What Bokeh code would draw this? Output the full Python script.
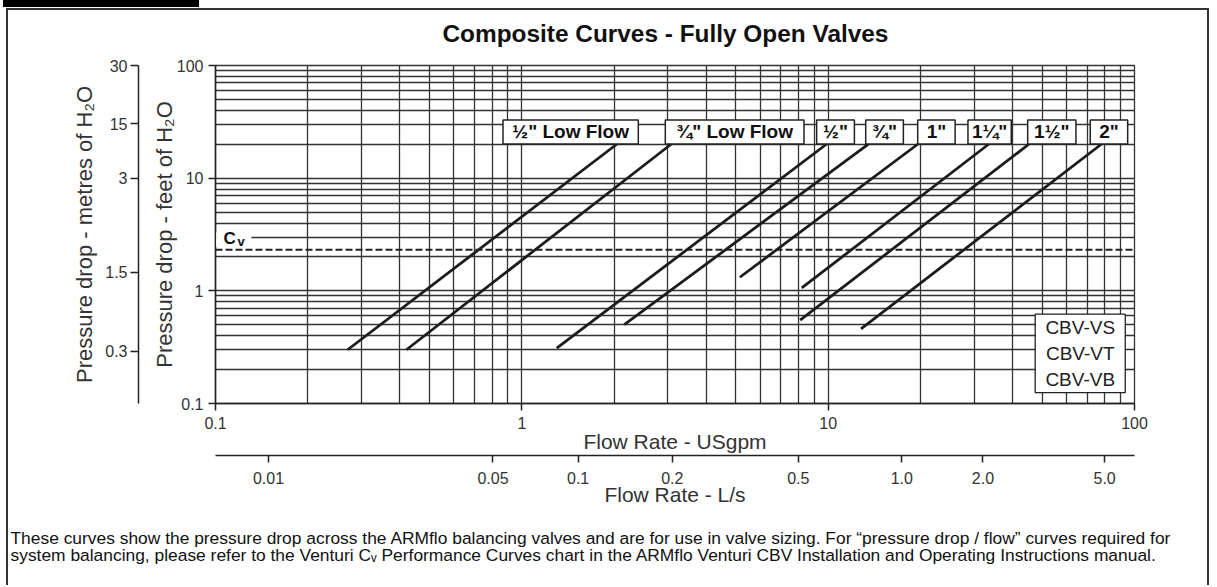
import math
from bokeh.plotting import figure
from bokeh.models import LogAxis, FixedTicker, Span, Label, BoxAnnotation, ColumnDataSource, Range1d, Title
from bokeh.core.properties import value
from bokeh.embed import file_html
from bokeh.resources import INLINE

FONT = "Liberation Sans"
INK = "#222222"
GRID = "#333333"
TXT = "#333333"

# ---- data (flow in USgpm, pressure drop in feet of H2O) ----
valves = ['\u00bd" Low Flow', '\u00be" Low Flow', '\u00bd"', '\u00be"', '1"', '1\u00bc"', '1\u00bd"', '2"']
flow_low = [0.27, 0.42, 1.30, 2.16, 5.15, 8.2, 8.1, 12.8]
dp_low = [0.30, 0.30, 0.31, 0.50, 1.32, 1.06, 0.55, 0.46]
flow_high = [2.04, 3.07, 9.87, 13.5, 19.6, 33.4, 45.2, 77.9]
dp_high = [20, 20, 20, 20, 20, 20, 20, 20]

# label boxes (USgpm extents, feet extents)
label_left = [0.868, 2.94, 9.17, 13.26, 19.6, 28.6, 44.8, 71.7]
label_right = [2.40, 8.34, 12.18, 17.6, 25.97, 39.6, 64.4, 95.0]
label_bottom = 20.1
label_top = 32.9

cv_dp = 2.31  # Cv reference line (1 psi = 2.31 ft)

gpm_ticks = [0.1, 1.0, 10.0, 100.0]
gpm_labels = ["0.1", "1", "10", "100"]
ft_ticks = [0.1, 1.0, 10.0, 100.0]
ft_labels = ["0.1", "1", "10", "100"]
m_tick_ft = [100.0, 30.5, 10.0, 1.46, 0.29]
m_labels = ["30", "15", "3", "1.5", "0.3"]
ls_tick_gpm = [0.149, 0.805, 1.527, 3.10, 7.99, 17.4, 32.0, 79.9]
ls_labels = ["0.01", "0.05", "0.1", "0.2", "0.5", "1.0", "2.0", "5.0"]

models = ["CBV-VS", "CBV-VT", "CBV-VB"]
model_box = (47.4, 93.3, 0.125, 0.621)  # left, right, bottom, top

chart_title = "Composite Curves - Fully Open Valves"
caption1 = ("These curves show the pressure drop across the ARMflo balancing valves and are for use in valve sizing. "
            "For \u201cpressure drop / flow\u201d curves required for")
caption2 = ("system balancing, please refer to the Venturi C\u1d65 Performance Curves chart in the ARMflo Venturi CBV "
            "Installation and Operating Instructions manual.")

minor = [m * 10.0 ** e for e in (-1, 0, 1) for m in range(2, 10)]

W, H = 1203, 577
p = figure(width=W, height=H, x_axis_type="log", y_axis_type="log",
           x_range=Range1d(0.1, 100), y_range=Range1d(0.1, 100),
           output_backend="svg", toolbar_location=None, title=None,
           min_border_left=207, min_border_right=77, min_border_top=55, min_border_bottom=184)
p.styles = {"margin-left": "6px", "margin-top": "8px",
            "border-top": "2px solid #333", "border-left": "2px solid #333", "border-right": "2px solid #333"}
p.stylesheets = [":host::before{content:'';position:absolute;left:-5px;top:-10px;width:196px;height:7px;background:#000;}"]
p.background_fill_color = "white"
p.border_fill_color = "white"
p.outline_line_color = GRID
p.outline_line_width = 1.3

# title: a thin spacer panel next to the frame, then the title itself
p.add_layout(Title(text=" ", text_font_size="1px", standoff=16), "above")
p.add_layout(Title(text=chart_title, align="left", offset=227, standoff=0, text_font=FONT,
                   text_font_size="24.4px", text_font_style="bold", text_color="#111111"), "above")


def style_axis(ax):
    ax.axis_line_color = INK
    ax.axis_line_width = 1.5
    ax.major_tick_line_color = INK
    ax.major_tick_line_width = 1.5
    ax.major_tick_in = 0
    ax.major_tick_out = 7
    ax.minor_tick_line_color = None
    ax.major_label_text_font = FONT
    ax.major_label_text_font_size = "16px"
    ax.major_label_text_color = TXT
    ax.axis_label_text_font = FONT
    ax.axis_label_text_font_size = "21px"
    ax.axis_label_text_font_style = "normal"
    ax.axis_label_text_color = TXT


# primary x axis (USgpm)
xa = p.xaxis[0]
xa.ticker = FixedTicker(ticks=gpm_ticks, minor_ticks=minor)
xa.major_label_overrides = dict(zip(gpm_ticks, gpm_labels))
xa.axis_label = "Flow Rate - USgpm"
style_axis(xa)
xa.major_label_standoff = 6
xa.axis_label_standoff = -2

# secondary x axis (L/s)
xa2 = LogAxis(ticker=FixedTicker(ticks=ls_tick_gpm, minor_ticks=[]),
              major_label_overrides=dict(zip(ls_tick_gpm, ls_labels)),
              axis_label="Flow Rate - L/s")
style_axis(xa2)
xa2.major_label_standoff = 9
xa2.axis_label_standoff = -4
p.add_layout(xa2, "below")

# primary y axis (feet)
ya = p.yaxis[0]
ya.ticker = FixedTicker(ticks=ft_ticks, minor_ticks=minor)
ya.major_label_overrides = dict(zip(ft_ticks, ft_labels))
ya.axis_label = "Pressure drop - feet of H\u2082O"
style_axis(ya)
ya.axis_label_text_font_size = "22px"
ya.major_label_standoff = 5
ya.axis_label_standoff = -3

# spacer between the two left axes
spacer = LogAxis(ticker=FixedTicker(ticks=[], minor_ticks=[]), axis_label=" ")
spacer.axis_line_color = None
spacer.major_tick_line_color = None
spacer.minor_tick_line_color = None
spacer.major_tick_out = 0
spacer.major_label_standoff = 0
spacer.axis_label_standoff = 4
spacer.axis_label_text_font_size = "3px"
p.add_layout(spacer, "left")

# metres axis
ma = LogAxis(ticker=FixedTicker(ticks=m_tick_ft, minor_ticks=[]),
             major_label_overrides=dict(zip(m_tick_ft, m_labels)),
             axis_label="Pressure drop - metres of H\u2082O")
style_axis(ma)
ma.axis_label_text_font_size = "22px"
ma.major_tick_out = 8
ma.major_label_standoff = 3
ma.axis_label_standoff = 5
p.add_layout(ma, "left")

p.xgrid.ticker = xa.ticker
p.ygrid.ticker = ya.ticker
for g in (p.xgrid[0], p.ygrid[0]):
    g.grid_line_color = GRID
    g.grid_line_width = 1.3
    g.minor_grid_line_color = GRID
    g.minor_grid_line_width = 1.3

# curves
src = ColumnDataSource(dict(x0=flow_low, y0=dp_low, x1=flow_high, y1=dp_high))
p.segment(x0="x0", y0="y0", x1="x1", y1="y1", source=src, line_color="#1c1c1c", line_width=2.8)

# Cv line
p.add_layout(Span(location=cv_dp, dimension="width", line_color=INK, line_width=2, line_dash="7 3"))
p.add_layout(BoxAnnotation(left=0.1005, right=0.131, bottom=2.45, top=3.3,
                           fill_color="white", fill_alpha=1.0, line_color=None))
p.add_layout(Label(x=0.1, y=cv_dp, x_offset=8, y_offset=2, text="C", text_font=FONT,
                   text_font_size="17px", text_font_style="bold", text_color="#111111",
                   text_baseline="bottom", text_align="left"))
p.add_layout(Label(x=0.1, y=cv_dp, x_offset=22, y_offset=1, text="v", text_font=FONT,
                   text_font_size="13px", text_font_style="bold", text_color="#111111",
                   text_baseline="bottom", text_align="left"))

# valve labels
lsrc = ColumnDataSource(dict(
    left=label_left, right=label_right,
    bottom=[label_bottom] * len(valves), top=[label_top] * len(valves),
    xc=[math.sqrt(a * b) for a, b in zip(label_left, label_right)],
    yc=[math.sqrt(label_bottom * label_top)] * len(valves),
    text=valves))
p.quad(left="left", right="right", bottom="bottom", top="top", source=lsrc,
       fill_color="white", line_color=INK, line_width=1.5)
p.text(x="xc", y="yc", text="text", source=lsrc, text_font=value(FONT),
       text_font_size="19px", text_font_style="bold", text_color="#111111",
       text_align="center", text_baseline="middle")

# model box
ml, mr, mb, mt = model_box
p.quad(left=[ml], right=[mr], bottom=[mb], top=[mt], fill_color="white", line_color=INK, line_width=1.3)
lb, lt = math.log10(mb), math.log10(mt)
my = [10 ** (lt - (lt - lb) * (i + 0.5) / len(models)) for i in range(len(models))]
p.text(x=[math.sqrt(ml * mr)] * len(models), y=my, text=models, text_font=value(FONT),
       text_font_size="19px", text_color="#222222", text_align="center", text_baseline="middle")

# caption below the axes (two lines)
p.add_layout(Title(text=caption1 + "\n" + caption2, align="left", offset=-205, standoff=34,
                   text_font=FONT, text_font_size="17.4px", text_font_style="normal",
                   text_color="#111111", text_line_height=0.876), "below")

open("out.html", "w").write(file_html(p, INLINE))
